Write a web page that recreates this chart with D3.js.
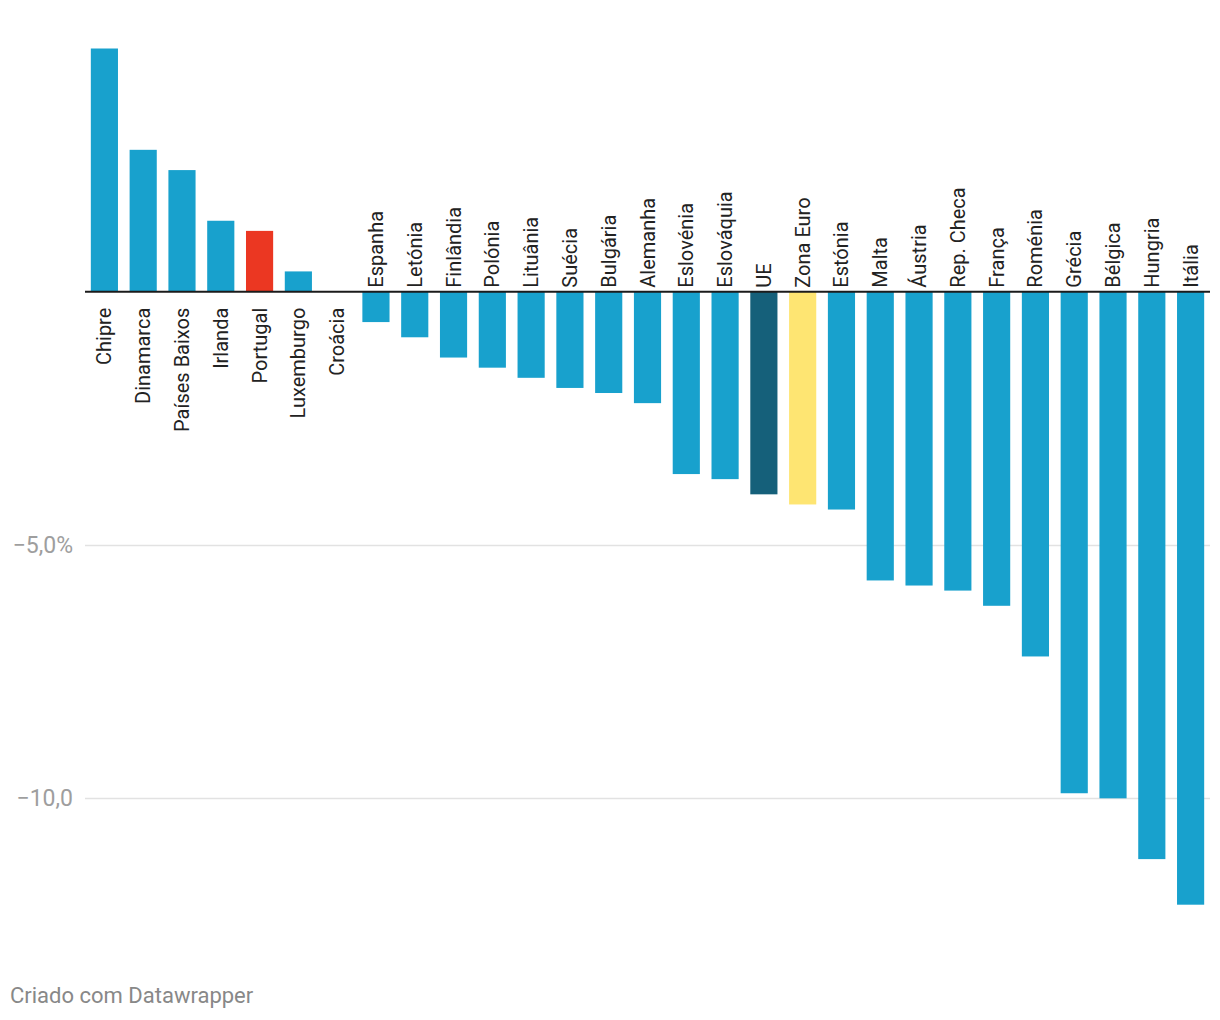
<!DOCTYPE html>
<html>
<head>
<meta charset="utf-8">
<script src="https://cdn.jsdelivr.net/npm/d3@7"></script>
<style>
  html, body { margin: 0; padding: 0; background: #fff; }
  svg { display: block; font-family: Roboto, "Noto Sans", sans-serif; }
</style>
</head>
<body>
<svg id="chart" width="1220" height="1020"></svg>
<script>
const categories = ["Chipre","Dinamarca","Países Baixos","Irlanda","Portugal","Luxemburgo","Croácia","Espanha","Letónia","Finlândia","Polónia","Lituânia","Suécia","Bulgária","Alemanha","Eslovénia","Eslováquia","UE","Zona Euro","Estónia","Malta","Áustria","Rep. Checa","França","Roménia","Grécia","Bélgica","Hungria","Itália"];
const values = [4.8, 2.8, 2.4, 1.4, 1.2, 0.4, 0.0, -0.6, -0.9, -1.3, -1.5, -1.7, -1.9, -2.0, -2.2, -3.6, -3.7, -4.0, -4.2, -4.3, -5.7, -5.8, -5.9, -6.2, -7.2, -9.9, -10.0, -11.2, -12.1];
const highlight = {"Portugal": "#eb3722", "UE": "#15607a", "Zona Euro": "#fee572"};
const tickValues = [-5, -10];
const tickLabels = ["−5,0%", "−10,0"];
const footer = "Criado com Datawrapper";

const data = categories.map((c, i) => ({ name: c, value: values[i] }));
const svg = d3.select("#chart");

const x = d3.scaleBand().domain(categories).range([85, 1210]).paddingInner(0.3).paddingOuter(0.15);
const y = d3.scaleLinear().domain([-12.1, 4.8]).range([904.7, 48.5]);

// gridlines
svg.append("g").selectAll("line").data(tickValues).join("line")
  .attr("x1", 85).attr("x2", 1210)
  .attr("y1", d => Math.round(y(d)) + 0.5).attr("y2", d => Math.round(y(d)) + 0.5)
  .attr("stroke", "#e2e2e2").attr("stroke-width", 1.5);

svg.append("g").selectAll("text").data(tickValues).join("text")
  .attr("x", 73).attr("y", d => y(d)).attr("dy", "0.35em")
  .attr("text-anchor", "end")
  .attr("fill", "#9e9e9e").style("font-size", "23px")
  .text((d, i) => tickLabels[i]);

// bars
svg.append("g").selectAll("rect").data(data).join("rect")
  .attr("x", d => x(d.name))
  .attr("width", x.bandwidth())
  .attr("y", d => y(Math.max(0, d.value)))
  .attr("height", d => Math.abs(y(d.value) - y(0)))
  .attr("fill", d => highlight[d.name] || "#18a1cd");

// zero line
svg.append("line")
  .attr("x1", 85).attr("x2", 1210)
  .attr("y1", y(0)).attr("y2", y(0))
  .attr("stroke", "#1b1b1b").attr("stroke-width", 2);

// category labels
svg.append("g").selectAll("text").data(data).join("text")
  .attr("transform", d => {
    const cx = x(d.name) + x.bandwidth() / 2;
    const ty = d.value >= 0 ? y(0) + 16 : y(0) - 4;
    return `translate(${cx},${ty}) rotate(-90)`;
  })
  .attr("dy", "0.35em")
  .attr("text-anchor", d => d.value >= 0 ? "end" : "start")
  .attr("fill", "#222").style("font-size", "20px")
  .text(d => d.name);

svg.append("text")
  .attr("x", 10).attr("y", 1003)
  .attr("fill", "#888").style("font-size", "22px")
  .text(footer);
</script>
</body>
</html>
